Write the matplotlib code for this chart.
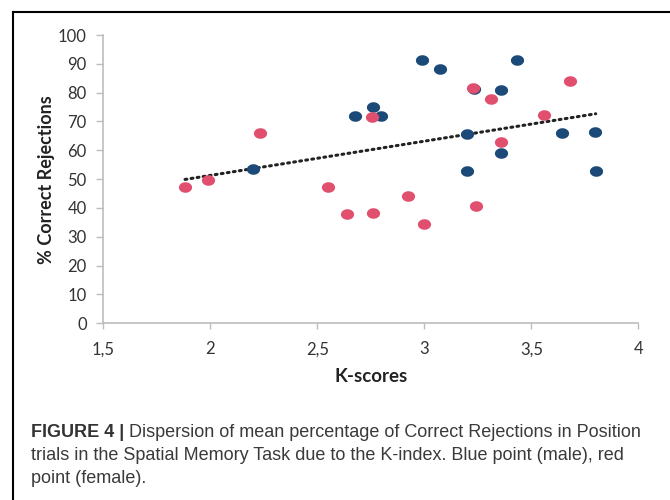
import numpy as np
import matplotlib
matplotlib.use("Agg")
import matplotlib.pyplot as plt
from matplotlib.path import Path
from matplotlib.lines import Line2D

# K-scores and % correct rejections
male_k = [2.20, 2.675, 2.759, 2.799, 2.989, 3.073, 3.201, 3.201, 3.231, 3.357, 3.357, 3.435, 3.642, 3.798, 3.801]
male_cr = [53.6, 71.9, 75.0, 71.9, 91.2, 88.2, 65.8, 52.9, 81.1, 81.0, 59.0, 91.2, 66.1, 66.2, 52.8]
female_k = [1.882, 1.989, 2.232, 2.551, 2.637, 2.760, 2.754, 2.922, 3.0, 3.226, 3.242, 3.312, 3.36, 3.561, 3.679]
female_cr = [47.4, 49.8, 66.0, 47.4, 37.9, 38.4, 71.5, 44.1, 34.4, 81.5, 40.7, 77.8, 62.8, 72.1, 83.9]

# dotted trend line as drawn in the figure
trend_slope = 11.87
trend_intercept = 27.56

x_ticks = [1.5, 2, 2.5, 3, 3.5, 4]
x_ticklabels = ["1,5", "2", "2,5", "3", "3,5", "4"]
y_ticks = list(range(0, 101, 10))

caption_bold = "FIGURE 4 |"
caption_rest = [" Dispersion of mean percentage of Correct Rejections in Position",
                "trials in the Spatial Memory Task due to the K-index. Blue point (male), red",
                "point (female)."]

BLUE = "#1c4a78"
RED = "#e14f6f"

# slightly flattened dot like the Excel export
t = np.linspace(0, 2 * np.pi, 60)
ellipse = Path(np.column_stack([np.cos(t), 0.8 * np.sin(t)]), closed=True)

fig = plt.figure(figsize=(6.7, 5), dpi=100)
ax = fig.add_axes([0.1542, 0.3534, 0.7985, 0.5766])

ax.plot(male_k, male_cr, linestyle="none", marker=ellipse, markersize=9.5,
        color=BLUE, markeredgewidth=0, zorder=3)
ax.plot(female_k, female_cr, linestyle="none", marker=ellipse, markersize=9.5,
        color=RED, markeredgewidth=0, zorder=4)

all_k = np.array(male_k + female_k)
xs = np.array([all_k.min(), all_k.max()])
ax.plot(xs, trend_slope * xs + trend_intercept, linestyle=(0, (0.6, 1.4)), color="#222222",
        linewidth=2.2, dash_capstyle="round", zorder=2)

ax.set_xlim(1.5, 4)
ax.set_ylim(0, 100)
ax.set_xticks(x_ticks)
ax.set_xticklabels(x_ticklabels)
ax.set_yticks(y_ticks)

for s in ["top", "right"]:
    ax.spines[s].set_visible(False)
for s in ["left", "bottom"]:
    ax.spines[s].set_color("#bdbdbd")
    ax.spines[s].set_linewidth(1.2)

ax.tick_params(axis="both", colors="#bdbdbd", labelcolor="#333333", labelsize=12, width=1)
ax.tick_params(axis="y", length=5, pad=7)
ax.tick_params(axis="x", length=4, pad=9)
for lab in ax.get_xticklabels() + ax.get_yticklabels():
    lab.set_family("Lato")

ax.set_xlabel("K-scores", family="Lato", fontweight="bold", fontsize=13.5, color="#222222", labelpad=8)
ax.set_ylabel("% Correct Rejections", family="Lato", fontweight="bold", fontsize=13, color="#222222", labelpad=2)

# frame lines of the figure panel (left and top only are visible)
fig.add_artist(Line2D([13.3 / 670, 13.3 / 670], [0, 1 - 12 / 500], color="black", linewidth=1.5))
fig.add_artist(Line2D([13.3 / 670, 1], [1 - 12 / 500, 1 - 12 / 500], color="black", linewidth=1.5))

# caption
x0 = 31 / 670
base = [437, 460, 483]
cap_font = "Liberation Sans"
cap_size = 13
bold_txt = fig.text(x0, 1 - base[0] / 500, caption_bold, family=cap_font, fontweight="bold",
                    fontsize=cap_size, color="#333333", va="baseline")
fig.canvas.draw()
bb = bold_txt.get_window_extent()
fig.text(bb.x1 / fig.bbox.width, 1 - base[0] / 500, caption_rest[0], family=cap_font,
         fontsize=cap_size, color="#3a3a3a", va="baseline")
for i in (1, 2):
    fig.text(x0, 1 - base[i] / 500, caption_rest[i], family=cap_font,
             fontsize=cap_size, color="#3a3a3a", va="baseline")

fig.savefig("out.png", dpi=100)
